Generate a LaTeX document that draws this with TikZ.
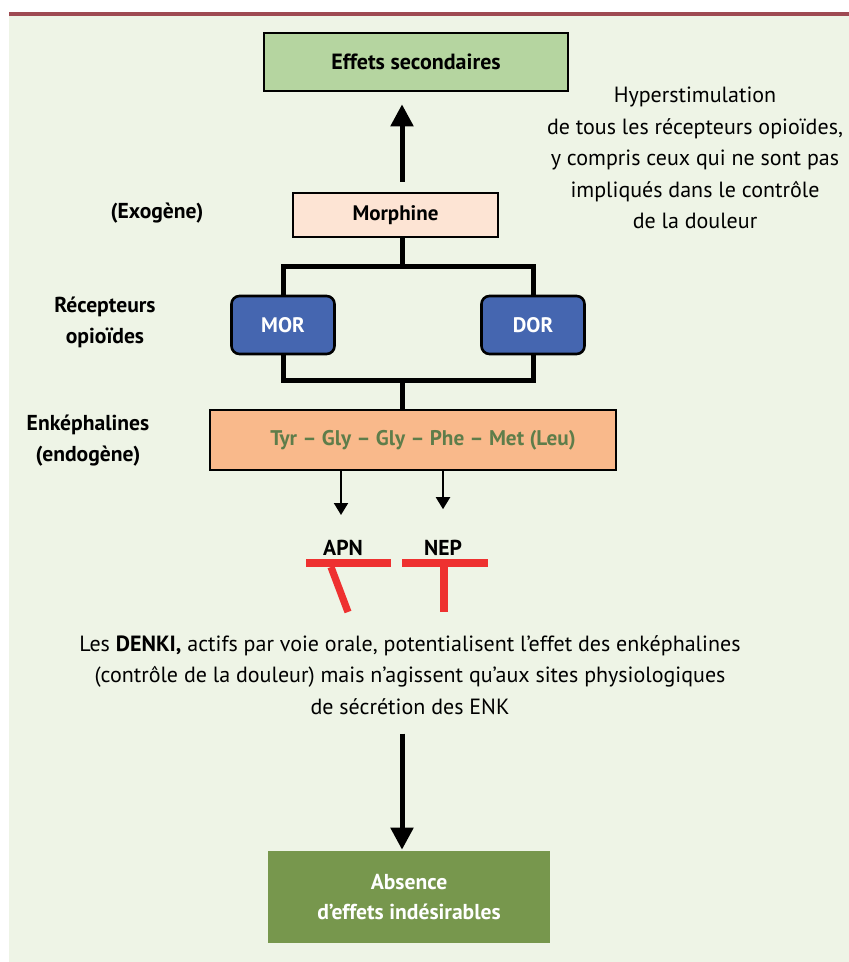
\documentclass[tikz,border=0pt]{standalone}
\usepackage{fontspec}
\setmainfont{PT Sans}
\usetikzlibrary{arrows.meta, positioning}
\definecolor{bgcol}{HTML}{EEF4E6}
\definecolor{rulecol}{HTML}{9E4A52}
\definecolor{sidecol}{HTML}{B5D5A0}
\definecolor{morphcol}{HTML}{FDE4D4}
\definecolor{reccol}{HTML}{4566B0}
\definecolor{enkcol}{HTML}{F9B98B}
\definecolor{peptcol}{HTML}{5E7D4A}
\definecolor{goodcol}{HTML}{77974D}
\definecolor{inhcol}{HTML}{EE3130}

\begin{document}
\begin{tikzpicture}[
  x=0.5pt, y=-0.5pt,
  font=\fontsize{11}{15.8}\selectfont,
  box/.style={draw, line width=1.3pt, inner sep=0pt, font=\fontsize{10.5}{15}\selectfont\bfseries},
  recbox/.style={box, fill=reccol, rounded corners=4pt, text=white,
    minimum width=51.5pt, minimum height=29pt},
  link/.style={line width=2.5pt},
  bigarrow/.style={line width=2.5pt, -{Triangle[length=11pt, width=11pt]}},
  smallarrow/.style={line width=1pt, -{Triangle[length=6pt, width=7pt]}},
  inhib/.style={inhcol, line width=3.6pt},
  lbl/.style={align=center, font=\fontsize{10.8}{15.5}\selectfont\bfseries}
]
\useasboundingbox (0,0) rectangle (849,962);
\fill[bgcol] (9,16) rectangle (849,962);
\fill[rulecol] (9,12) rectangle (849,16);

% main column
\node[box, fill=sidecol, minimum width=152pt, minimum height=29pt,
  font=\fontsize{11}{15}\selectfont\bfseries] (sideeff) at (416,62) {Effets secondaires};
\node[box, fill=morphcol, minimum width=102.5pt, minimum height=22pt] (morphine) at (395.5,215) {Morphine};
\node[recbox] (mor) at (283,325) {MOR};
\node[recbox] (dor) at (533,325) {DOR};
\node[box, fill=enkcol, minimum width=203pt, minimum height=30pt, text=peptcol,
  font=\fontsize{10.6}{15}\selectfont\bfseries] (enk) at (413,440) {\hspace*{10pt}Tyr -- Gly -- Gly -- Phe -- Met (Leu)};
\node[lbl] (apn) at (343,548) {APN};
\node[lbl] (nep) at (443,548) {NEP};
\node[align=center] (denki) at (410,675) {Les \textbf{DENKI,} actifs par voie orale, potentialisent l'effet des enképhalines\\
  (contrôle de la douleur) mais n'agissent qu'aux sites physiologiques\\
  de sécrétion des ENK};
\node[box, draw=none, fill=goodcol, text=white, align=center, minimum width=141pt, minimum height=46pt,
  font=\fontsize{10.8}{15}\selectfont\bfseries] (absence) at (409,897) {Absence\\d'effets indésirables};

% side labels
\node[lbl] (exo) at (157,213) {(Exogène)};
\node[lbl] (recept) at (105,322) {Récepteurs\\opioïdes};
\node[lbl] (enkeph) at (88,441) {Enképhalines\\(endogène)};
\node[align=center] (hyper) at (695,158) {Hyperstimulation\\de tous les récepteurs opioïdes,\\y compris ceux qui ne sont pas\\impliqués dans le contrôle\\de la douleur};

% connectors
\coordinate (top) at (402,267);
\coordinate (bot) at (402,380);
\draw[bigarrow] ([yshift=5pt]morphine.north -| top) -- ([yshift=-6pt]sideeff.south -| top);
\draw[link] (morphine.south -| top) -- (top);
\draw[link] (mor.north) |- (top) -| (dor.north);
\draw[link] (mor.south) |- (bot) -| (dor.south);
\draw[link] (bot) -- (enk.north -| bot);
\draw[smallarrow] (enk.south -| 341,0) -- (341,515);
\draw[smallarrow] (enk.south -| nep) -- ([yshift=12pt]nep.north);
\draw[bigarrow] ([yshift=-6pt]denki.south -| top) -- (absence.north -| top);

% inhibition marks
\draw[inhib] ([shift={(-37,15)}]apn.center) -- ++(85,0);
\draw[inhib] ([shift={(-12,19)}]apn.center) -- ++(17,45);
\draw[inhib] ([shift={(-41,15)}]nep.center) -- ++(86,0);
\draw[inhib] ([shift={(1,19)}]nep.center) -- ++(0,45);
\end{tikzpicture}
\end{document}
